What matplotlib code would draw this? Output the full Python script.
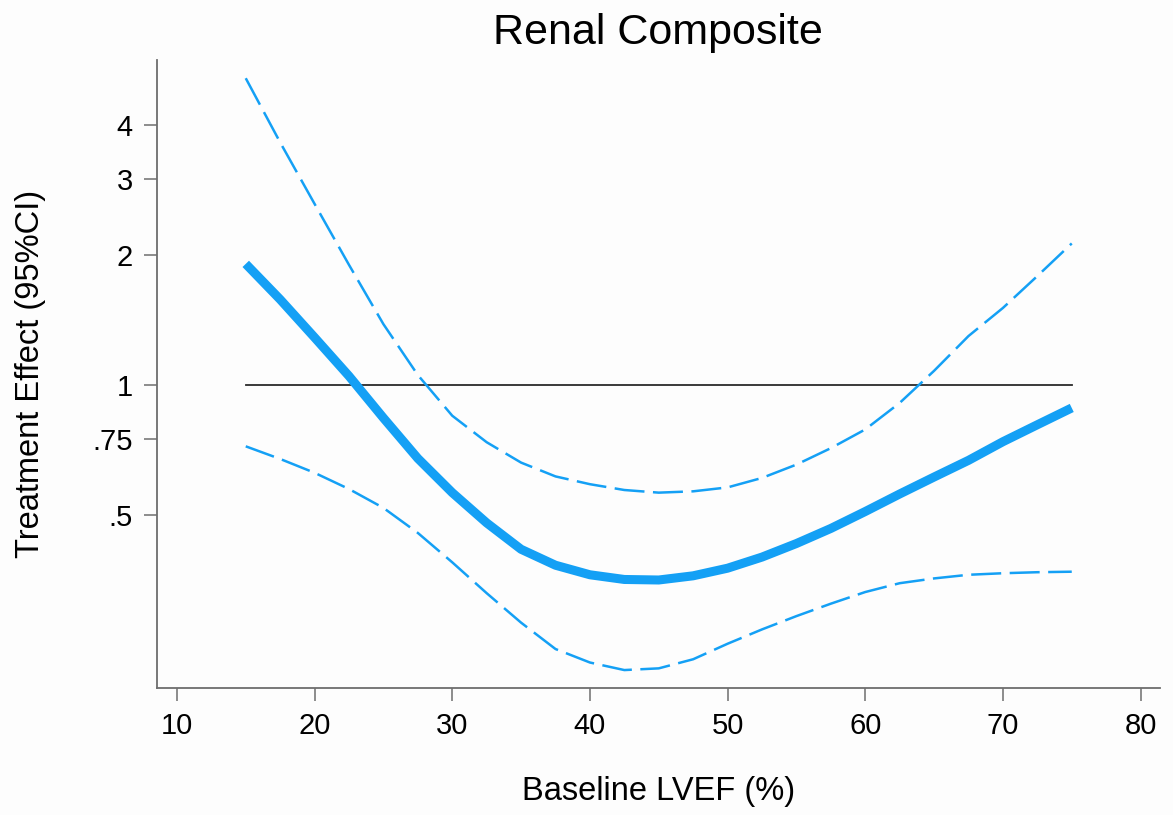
import numpy as np
import matplotlib
matplotlib.use("Agg")
import matplotlib.pyplot as plt
from matplotlib.ticker import FixedLocator, FixedFormatter, NullLocator

# baseline LVEF (%)
lvef = [15, 17.5, 20, 22.5, 25, 27.5, 30, 32.5, 35, 37.5, 40, 42.5, 45,
        47.5, 50, 52.5, 55, 57.5, 60, 62.5, 65, 67.5, 70, 72.5, 75]
# treatment effect (hazard ratio) and 95% CI
effect = [1.91, 1.58, 1.29, 1.05, 0.84, 0.677, 0.564, 0.480, 0.417, 0.383,
          0.364, 0.355, 0.354, 0.362, 0.377, 0.400, 0.430, 0.466, 0.510,
          0.560, 0.613, 0.670, 0.740, 0.810, 0.886]
ci_upper = [5.14, 3.65, 2.63, 1.90, 1.385, 1.056, 0.85, 0.738, 0.662, 0.615,
            0.590, 0.572, 0.564, 0.568, 0.580, 0.610, 0.655, 0.715, 0.790,
            0.910, 1.08, 1.30, 1.51, 1.79, 2.13]
ci_lower = [0.722, 0.675, 0.627, 0.575, 0.520, 0.455, 0.389, 0.330, 0.282,
            0.245, 0.228, 0.219, 0.221, 0.232, 0.252, 0.272, 0.292, 0.312,
            0.332, 0.348, 0.357, 0.364, 0.367, 0.369, 0.370]

ref_x = [15, 75]
ref_y = [1, 1]

xticks = [10, 20, 30, 40, 50, 60, 70, 80]
yticks = [0.5, 0.75, 1, 2, 3, 4]
ytick_labels = [".5", ".75", "1", "2", "3", "4"]

plt.rcParams['font.family'] = ['Liberation Sans', 'DejaVu Sans']

blue = '#14a0f5'
axcol = '#6e6e6e'

fig = plt.figure(figsize=(11.73, 8.15), dpi=100)
fig.patch.set_facecolor('#fdfdfd')
ax = fig.add_axes([0.1338, 0.1558, 0.855, 0.770])
ax.set_facecolor('#fdfdfd')

ax.plot(ref_x, ref_y, color='#2a2a2a', lw=1.3, zorder=2)
ax.plot(lvef, ci_upper, color=blue, lw=1.8, linestyle=(0, (12, 3.4)), zorder=3)
ax.plot(lvef, ci_lower, color=blue, lw=1.8, linestyle=(0, (12, 3.4)), zorder=3)
ax.plot(lvef, effect, color=blue, lw=6.5, solid_capstyle='butt',
        solid_joinstyle='round', zorder=4)

ax.set_yscale('log')
ax.set_xlim(8.55, 81.4)
ax.set_ylim(0.199, 5.65)

ax.xaxis.set_major_locator(FixedLocator(xticks))
ax.yaxis.set_major_locator(FixedLocator(yticks))
ax.yaxis.set_major_formatter(FixedFormatter(ytick_labels))
ax.yaxis.set_minor_locator(NullLocator())

for s in ['top', 'right']:
    ax.spines[s].set_visible(False)
for s in ['left', 'bottom']:
    ax.spines[s].set_color(axcol)
    ax.spines[s].set_linewidth(1.3)

ax.tick_params(axis='both', which='major', direction='out', length=9.5,
               width=1.1, color=axcol, labelsize=21, pad=8)

ax.set_title('Renal Composite', fontsize=31, pad=12)
ax.set_xlabel('Baseline LVEF (%)', fontsize=23.5, labelpad=26)
ax.set_ylabel('Treatment Effect (95%CI)', fontsize=23.5, labelpad=33)

fig.savefig('out.png', dpi=100, facecolor=fig.get_facecolor())
